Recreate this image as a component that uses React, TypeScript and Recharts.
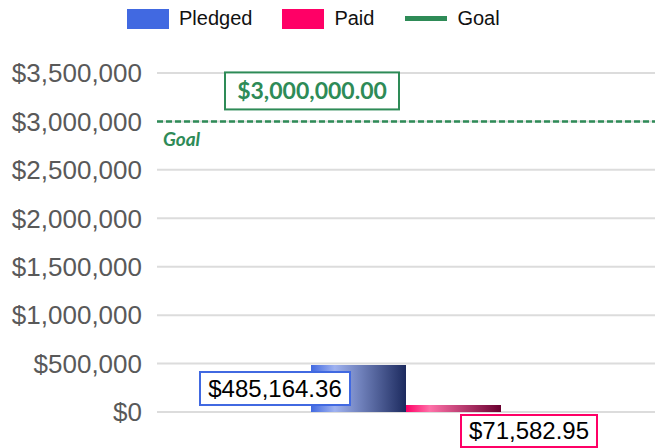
import React from "react";
import {
  BarChart,
  Bar,
  XAxis,
  YAxis,
  CartesianGrid,
  ReferenceLine,
  Legend,
} from "recharts";

const categories = ["Campaign"];
const pledgedValues = [485164.36];
const paidValues = [71582.95];
const goalValue = 3000000;
const yTicks = [0, 500000, 1000000, 1500000, 2000000, 2500000, 3000000, 3500000];

const data = categories.map((name, i) => ({
  name,
  pledged: pledgedValues[i],
  paid: paidValues[i],
}));

const BLUE = "#4169e1";
const PINK = "#ff0066";
const GREEN = "#2e8b57";
const SANS = "'Liberation Sans', Arial, sans-serif";
const GOAL_FONT = "Lato, 'Open Sans', sans-serif";

const money = (v: number, digits = 0) =>
  "$" +
  v.toLocaleString("en-US", {
    minimumFractionDigits: digits,
    maximumFractionDigits: digits,
  });

function LegendContent() {
  const item = (swatch: React.ReactNode, label: string, gap: number) => (
    <div style={{ display: "flex", alignItems: "center", marginRight: gap }}>
      {swatch}
      <span style={{ marginLeft: 10, fontSize: 20, color: "#111" }}>{label}</span>
    </div>
  );
  return (
    <div
      style={{
        display: "flex",
        height: 30,
        alignItems: "flex-start",
        paddingLeft: 127,
        paddingTop: 7,
        boxSizing: "border-box",
        fontFamily: SANS,
      }}
    >
      {item(<div style={{ width: 42, height: 20, background: BLUE }} />, "Pledged", 30)}
      {item(<div style={{ width: 42, height: 20, background: PINK }} />, "Paid", 31)}
      {item(<div style={{ width: 42, height: 5, background: GREEN }} />, "Goal", 0)}
    </div>
  );
}

function PledgedLabel(props: any) {
  const { x, y, height, value } = props;
  const w = 150;
  const h = 33;
  const bx = x + 39 - w;
  const by = y + height / 2 - h / 2;
  return (
    <g>
      <rect x={bx} y={by} width={w} height={h} fill="#fff" stroke={BLUE} strokeWidth={2} />
      <text
        x={bx + w / 2}
        y={by + h / 2 + 8}
        textAnchor="middle"
        fontSize={24}
        fontFamily={SANS}
        fill="#000"
      >
        {money(value, 2)}
      </text>
    </g>
  );
}

function PaidLabel(props: any) {
  const { x, y, width, height, value } = props;
  const w = 136;
  const h = 32;
  const bx = x + width - 40;
  const by = y + height + 3;
  return (
    <g>
      <rect x={bx} y={by} width={w} height={h} fill="#fff" stroke={PINK} strokeWidth={2} />
      <text
        x={bx + w / 2}
        y={by + h / 2 + 8}
        textAnchor="middle"
        fontSize={24}
        fontFamily={SANS}
        fill="#000"
      >
        {money(value, 2)}
      </text>
    </g>
  );
}

function GoalLabel(props: any) {
  const { viewBox } = props;
  const { x, y } = viewBox;
  const w = 174;
  const h = 37;
  const bx = x + 68;
  const by = y - 49;
  return (
    <g>
      <rect x={bx} y={by} width={w} height={h} fill="#fff" stroke={GREEN} strokeWidth={2} />
      <text
        x={bx + w / 2}
        y={by + h / 2 + 8}
        textAnchor="middle"
        fontSize={23}
        fontWeight={700}
        fontFamily={GOAL_FONT}
        fill={GREEN}
      >
        {money(goalValue, 2)}
      </text>
      <text
        x={x + 6}
        y={y + 25}
        fontSize={19}
        fontWeight={700}
        fontStyle="italic"
        fontFamily={GOAL_FONT}
        fill={GREEN}
      >
        Goal
      </text>
    </g>
  );
}

export default function App() {
  return (
    <div style={{ position: "absolute", left: 0, top: 0, background: "#fff" }}>
      <BarChart
        width={658}
        height={448}
        data={data}
        margin={{ top: 43, right: 3, bottom: 36, left: 0 }}
        barGap={0}
        barSize={95}
      >
        <defs>
          <linearGradient id="gradPledged" x1="0" y1="0" x2="1" y2="0">
            <stop offset="0%" stopColor="#4169e1" />
            <stop offset="25%" stopColor="#9fb2f0" />
            <stop offset="100%" stopColor="#1c2a5e" />
          </linearGradient>
          <linearGradient id="gradPaid" x1="0" y1="0" x2="1" y2="0">
            <stop offset="0%" stopColor="#ff0066" />
            <stop offset="25%" stopColor="#ff70a8" />
            <stop offset="100%" stopColor="#6a0030" />
          </linearGradient>
        </defs>
        <Legend
          verticalAlign="top"
          height={30}
          wrapperStyle={{ top: 0, left: 0 }}
          content={<LegendContent />}
        />
        <CartesianGrid vertical={false} stroke="#dcdcdc" strokeWidth={2} />
        <XAxis dataKey="name" hide />
        <YAxis
          width={157}
          domain={[0, 3500000]}
          ticks={yTicks}
          interval={0}
          axisLine={false}
          tickLine={false}
          tickSize={0}
          tickMargin={15}
          tickFormatter={(v: number) => money(v)}
          tick={{ fill: "#595959", fontSize: 26, fontFamily: SANS }}
        />
        <ReferenceLine
          y={goalValue}
          stroke={GREEN}
          strokeWidth={2.5}
          strokeDasharray="6 3"
          label={<GoalLabel />}
        />
        <Bar
          dataKey="pledged"
          fill="url(#gradPledged)"
          isAnimationActive={false}
          label={<PledgedLabel />}
        />
        <Bar
          dataKey="paid"
          fill="url(#gradPaid)"
          isAnimationActive={false}
          label={<PaidLabel />}
        />
      </BarChart>
    </div>
  );
}
